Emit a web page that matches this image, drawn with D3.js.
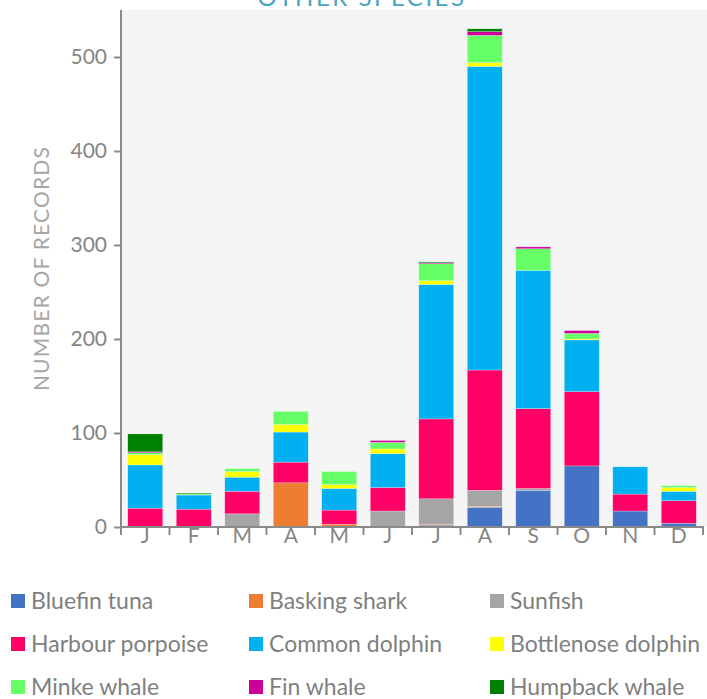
<!DOCTYPE html>
<html>
<head>
<meta charset="utf-8">
<script src="https://cdn.jsdelivr.net/npm/d3@7"></script>
<style>
  body { margin: 0; background: #fff; }
  svg text { font-family: Lato, "Open Sans", sans-serif; }
</style>
</head>
<body>
<div id="chart"></div>
<script>
const WIDTH = 707;
const HEIGHT = 699;

const months = ['J', 'F', 'M', 'A', 'M', 'J', 'J', 'A', 'S', 'O', 'N', 'D'];
const species = ['Bluefin tuna', 'Basking shark', 'Sunfish', 'Harbour porpoise', 'Common dolphin',
    'Bottlenose dolphin', 'Minke whale', 'Fin whale', 'Humpback whale'];
const colors = ['#4472c4', '#ed7d31', '#a5a5a5', '#ff0066', '#00b0f0', '#ffff00', '#66ff66', '#cc0099', '#008000'];

// records per month, one array per species
const bluefinTuna       = [0, 0, 0, 0, 0, 0, 2, 21, 39, 65, 17, 4];
const baskingShark      = [0, 0, 0, 47, 3, 0, 1, 1, 0, 0, 0, 0];
const sunfish           = [0, 0, 14, 0, 0, 17, 27, 17, 2, 0, 0, 0];
const harbourPorpoise   = [20, 19, 24, 22, 15, 25, 85, 128, 85, 79, 18, 24];
const commonDolphin     = [46, 15, 15, 32, 23, 36, 143, 323, 147, 55, 29, 10];
const bottlenoseDolphin = [11, 0, 6, 8, 4, 5, 4, 4, 0, 1, 0, 4];
const minkeWhale        = [2, 1, 3, 14, 14, 7, 18, 29, 23, 6, 0, 2];
const finWhale          = [1, 0, 0, 0, 0, 2, 1, 4, 2, 3, 0, 0];
const humpbackWhale     = [19, 1, 0, 0, 0, 0, 1, 3, 0, 0, 0, 0];

const yTicks = [0, 100, 200, 300, 400, 500];

const seriesValues = [bluefinTuna, baskingShark, sunfish, harbourPorpoise, commonDolphin,
    bottlenoseDolphin, minkeWhale, finWhale, humpbackWhale];

// table for d3.stack
const table = months.map((m, i) => {
    const row = { idx: i };
    species.forEach((s, k) => { row[s] = seriesValues[k][i]; });
    return row;
});

const stacked = d3.stack().keys(species)(table);

const svg = d3.select('#chart')
    .append('svg')
    .attr('width', WIDTH)
    .attr('height', HEIGHT);

const PLOT_LEFT = 121, PLOT_RIGHT = 703, PLOT_TOP = 10, PLOT_BOTTOM = 527;

const xScale = d3.scaleBand()
    .domain(d3.range(months.length))
    .range([PLOT_LEFT, PLOT_RIGHT])
    .paddingInner(0.28)
    .paddingOuter(0.14);

const yScale = d3.scaleLinear()
    .domain([0, 550])
    .range([PLOT_BOTTOM, PLOT_TOP]);

// plot background
svg.append('rect')
    .attr('x', PLOT_LEFT + 1)
    .attr('y', PLOT_TOP)
    .attr('width', WIDTH - PLOT_LEFT - 1)
    .attr('height', PLOT_BOTTOM - PLOT_TOP)
    .attr('fill', '#f5f5f5');

// title (cut off at top as in the source)
svg.append('text')
    .attr('x', 362)
    .attr('y', 6)
    .attr('text-anchor', 'middle')
    .attr('font-size', 24)
    .attr('letter-spacing', 2.5)
    .attr('fill', '#4ba3c3')
    .text('OTHER SPECIES');

// bars
svg.selectAll('g.series')
    .data(stacked)
    .enter()
    .append('g')
    .attr('class', 'series')
    .attr('fill', (d, i) => colors[i])
    .selectAll('rect')
    .data(d => d)
    .enter()
    .append('rect')
    .attr('x', d => xScale(d.data.idx))
    .attr('y', d => yScale(d[1]))
    .attr('width', xScale.bandwidth())
    .attr('height', d => yScale(d[0]) - yScale(d[1]))
    .attr('stroke', '#ffffff')
    .attr('stroke-opacity', 0.5)
    .attr('stroke-width', 0.5);

// y axis
const yAxis = svg.append('g')
    .attr('transform', `translate(${PLOT_LEFT},0)`)
    .call(d3.axisLeft(yScale).tickValues(yTicks).tickSize(7).tickPadding(7));
yAxis.select('.domain').remove();
yAxis.selectAll('line').attr('stroke', '#8a8a8a').attr('stroke-width', 2);
yAxis.selectAll('text').attr('font-size', 21).attr('fill', '#858585');
svg.append('line')
    .attr('x1', PLOT_LEFT).attr('x2', PLOT_LEFT)
    .attr('y1', PLOT_TOP).attr('y2', PLOT_BOTTOM + 1)
    .attr('stroke', '#8a8a8a').attr('stroke-width', 2);

// x axis
const xAxis = svg.append('g')
    .attr('transform', `translate(0,${PLOT_BOTTOM})`)
    .call(d3.axisBottom(xScale).tickSize(0).tickPadding(1).tickFormat(i => months[i]));
xAxis.select('.domain').remove();
xAxis.selectAll('text').attr('font-size', 21).attr('fill', '#858585');
svg.append('line')
    .attr('x1', PLOT_LEFT - 1).attr('x2', PLOT_RIGHT + 1)
    .attr('y1', PLOT_BOTTOM).attr('y2', PLOT_BOTTOM)
    .attr('stroke', '#8a8a8a').attr('stroke-width', 2);
svg.selectAll('line.xtick')
    .data(d3.range(months.length + 1))
    .enter()
    .append('line')
    .attr('class', 'xtick')
    .attr('x1', i => xScale.range()[0] + i * xScale.step())
    .attr('x2', i => xScale.range()[0] + i * xScale.step())
    .attr('y1', PLOT_BOTTOM)
    .attr('y2', PLOT_BOTTOM + 8)
    .attr('stroke', '#8a8a8a')
    .attr('stroke-width', 2);

// y axis title
svg.append('text')
    .attr('transform', `translate(42,${(PLOT_TOP + PLOT_BOTTOM) / 2}) rotate(-90)`)
    .attr('text-anchor', 'middle')
    .attr('dy', '0.35em')
    .attr('font-size', 21)
    .attr('letter-spacing', 1.2)
    .attr('fill', '#a6a6a6')
    .text('NUMBER OF RECORDS');

// legend
const colX = [11, 249, 490];
const rowY = [601, 644, 687];
const legend = svg.selectAll('g.legend')
    .data(species)
    .enter()
    .append('g')
    .attr('class', 'legend')
    .attr('transform', (d, i) => `translate(${colX[i % 3]},${rowY[Math.floor(i / 3)]})`);
legend.append('rect')
    .attr('x', 0)
    .attr('y', -7)
    .attr('width', 14)
    .attr('height', 14)
    .attr('fill', (d, i) => colors[i]);
legend.append('text')
    .attr('x', 20)
    .attr('y', 0)
    .attr('dy', '0.35em')
    .attr('font-size', 23)
    .attr('fill', '#7f7f7f')
    .text(d => d);
</script>
</body>
</html>
